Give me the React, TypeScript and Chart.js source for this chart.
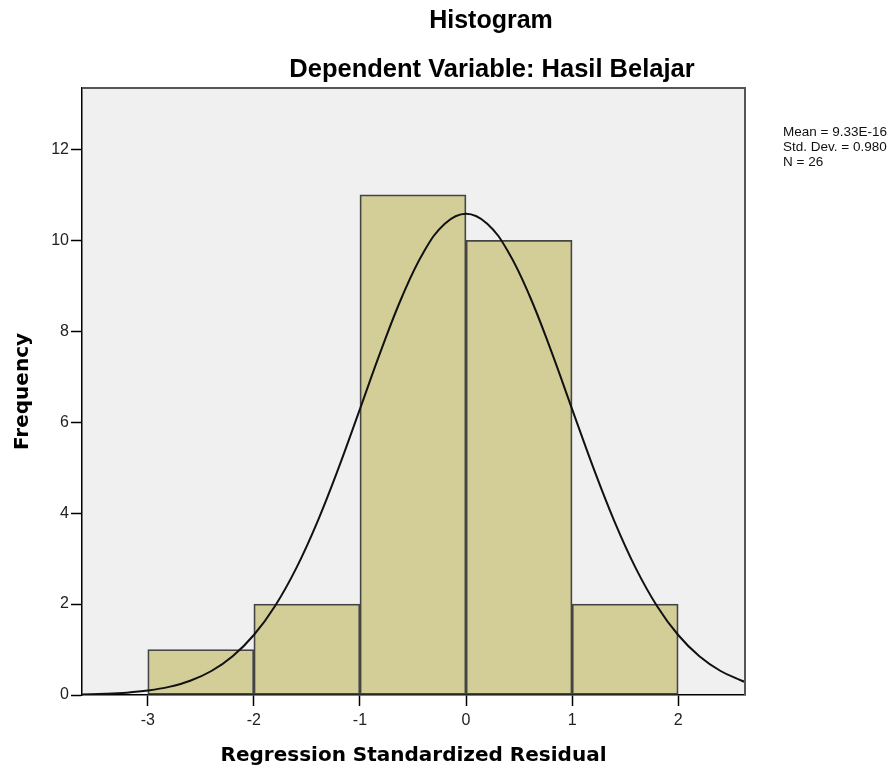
import React, { useEffect, useRef } from "react";
import { Chart, registerables } from "chart.js";

Chart.register(...registerables);

// ---- data ----
const titleText = "Histogram";
const subtitleText = "Dependent Variable: Hasil Belajar";
const xAxisTitle = "Regression Standardized Residual";
const yAxisTitle = "Frequency";
const statsLines = ["Mean = 9.33E-16", "Std. Dev. = 0.980", "N = 26"];

const binCenters = [-2.5, -1.5, -0.5, 0.5, 1.5];
const frequencies = [1, 2, 11, 10, 2];

const curveX = [
  -3.62, -3.4, -3.2, -3.0, -2.8, -2.6, -2.4, -2.2, -2.0, -1.8, -1.6, -1.4, -1.2, -1.0,
  -0.8, -0.6, -0.4, -0.2, 0.0, 0.2, 0.4, 0.6, 0.8, 1.0, 1.2, 1.4, 1.6, 1.8, 2.0, 2.2,
  2.4, 2.6, 2.63,
];
const curveY = [
  0.012, 0.026, 0.051, 0.098, 0.179, 0.314, 0.528, 0.852, 1.32, 1.959, 2.791, 3.815,
  5.001, 6.289, 7.585, 8.775, 9.738, 10.366, 10.584, 10.366, 9.738, 8.775, 7.585, 6.289,
  5.001, 3.815, 2.791, 1.959, 1.32, 0.852, 0.528, 0.314, 0.289,
];

const xMin = -3.62;
const xMax = 2.63;
const yMax = 13.35;
const xTicks = [-3, -2, -1, 0, 1, 2];
const yTicks = [0, 2, 4, 6, 8, 10, 12];

const SANS = '"Liberation Sans", Arial, sans-serif';
const BOLD_AXIS = '"DejaVu Sans", Verdana, sans-serif';

const decorPlugin = {
  id: "decor",
  beforeDraw(chart: any) {
    const { ctx, chartArea } = chart;
    ctx.save();
    ctx.fillStyle = "#f0f0f0";
    ctx.fillRect(chartArea.left, chartArea.top, chartArea.right - chartArea.left, chartArea.bottom - chartArea.top);
    ctx.restore();
  },
  afterDraw(chart: any) {
    const { ctx, chartArea } = chart;
    ctx.save();
    // frame top & right
    ctx.strokeStyle = "#555555";
    ctx.lineWidth = 2;
    ctx.beginPath();
    ctx.moveTo(chartArea.left, chartArea.top);
    ctx.lineTo(chartArea.right, chartArea.top);
    ctx.lineTo(chartArea.right, chartArea.bottom);
    ctx.stroke();
    // titles
    ctx.fillStyle = "#000";
    ctx.textAlign = "center";
    ctx.textBaseline = "alphabetic";
    ctx.font = `bold 25px ${SANS}`;
    ctx.fillText(titleText, 491, 28);
    ctx.font = `bold 25.5px ${SANS}`;
    ctx.fillText(subtitleText, 492, 77);
    // stats
    ctx.textAlign = "left";
    ctx.font = `13.5px ${SANS}`;
    ctx.fillStyle = "#111";
    statsLines.forEach((s, i) => ctx.fillText(s, 783, 136 + i * 15));
    ctx.restore();
  },
};

export default function App() {
  const ref = useRef<HTMLCanvasElement | null>(null);
  useEffect(() => {
    if (!ref.current) return;
    const chart = new Chart(ref.current, {
      type: "bar",
      data: {
        datasets: [
          {
            type: "line",
            data: curveX.map((x, i) => ({ x, y: curveY[i] })),
            borderColor: "#111111",
            borderWidth: 2,
            pointRadius: 0,
            tension: 0.4,
            fill: false,
            order: 0,
          } as any,
          {
            type: "bar",
            data: binCenters.map((x, i) => ({ x, y: frequencies[i] })),
            backgroundColor: "#d3ce98",
            borderColor: "#444444",
            borderWidth: 1.8,
            barPercentage: 1,
            categoryPercentage: 1,
            borderSkipped: false,
            order: 1,
          } as any,
        ],
      },
      options: {
        animation: false,
        responsive: false,
        maintainAspectRatio: false,
        layout: { padding: { top: 88, right: 149, left: 0, bottom: 0 } },
        plugins: {
          legend: { display: false },
          tooltip: { enabled: false },
          title: { display: false },
        },
        scales: {
          x: {
            type: "linear",
            min: xMin,
            max: xMax,
            offset: false,
            afterBuildTicks: (scale: any) => {
              scale.ticks = xTicks.map((v) => ({ value: v }));
            },
            afterFit: (scale: any) => {
              scale.height = 76;
            },
            ticks: {
              color: "#222",
              font: { family: SANS, size: 16 },
              padding: 5,
              maxRotation: 0,
              autoSkip: false,
              callback: (v: any) => String(v),
            },
            grid: {
              display: true,
              offset: false,
              drawOnChartArea: false,
              drawTicks: true,
              tickLength: 11,
              tickColor: "#000",
              tickWidth: 1.5,
            },
            border: { display: true, color: "#000", width: 1.5 },
            title: {
              display: true,
              text: xAxisTitle,
              color: "#000",
              font: { family: BOLD_AXIS, size: 20, weight: "bold" },
              padding: { top: 0, bottom: 3 },
            },
          },
          y: {
            type: "linear",
            min: 0,
            max: yMax,
            afterBuildTicks: (scale: any) => {
              scale.ticks = yTicks.map((v) => ({ value: v }));
            },
            afterFit: (scale: any) => {
              scale.width = 82;
            },
            ticks: {
              color: "#222",
              font: { family: SANS, size: 16 },
              padding: 2,
              autoSkip: false,
              callback: (v: any) => String(v),
            },
            grid: {
              display: true,
              drawOnChartArea: false,
              drawTicks: true,
              tickLength: 11,
              tickColor: "#000",
              tickWidth: 1.5,
            },
            border: { display: true, color: "#000", width: 1.5 },
            title: {
              display: true,
              text: yAxisTitle,
              color: "#000",
              font: { family: BOLD_AXIS, size: 20, weight: "bold" },
              padding: { top: 11, bottom: 0 },
            },
          },
        },
      } as any,
      plugins: [decorPlugin],
    });
    return () => chart.destroy();
  }, []);

  return (
    <div style={{ position: "absolute", left: 0, top: 0, width: 894, height: 771, background: "#fff" }}>
      <canvas ref={ref} width={894} height={771} style={{ display: "block" }} />
    </div>
  );
}
